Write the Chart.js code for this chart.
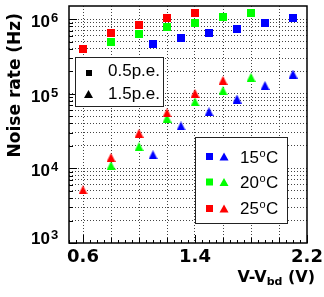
<!DOCTYPE html>
<html><head><meta charset="utf-8">
<script src="https://cdn.jsdelivr.net/npm/chart.js@4/dist/chart.umd.min.js"></script>
<style>html,body{margin:0;padding:0;background:#fff;}canvas{display:block;}</style>
</head><body>
<canvas id="c" width="324" height="297"></canvas>
<script>
// ---- data ----
const voltage15 = [1.1, 1.3, 1.5, 1.7, 1.9, 2.1];
const rate15_05pe = [4.65e5, 5.6e5, 6.45e5, 7.45e5, 8.75e5, 1.03e6];
const rate15_15pe = [1.52e4, 3.7e4, 5.75e4, 8.5e4, 1.29e5, 1.83e5];

const voltage20 = [0.8, 1.0, 1.2, 1.4, 1.6, 1.8];
const rate20_05pe = [4.9e5, 6.3e5, 7.8e5, 9.0e5, 1.06e6, 1.2e6];
const rate20_15pe = [1.09e4, 1.96e4, 4.7e4, 7.8e4, 1.1e5, 1.66e5];

const voltage25 = [0.6, 0.8, 1.0, 1.2, 1.4, 1.6];
const rate25_05pe = [3.95e5, 6.55e5, 8.4e5, 1.03e6, 1.21e6];
const rate25_15pe = [5.15e3, 1.4e4, 2.95e4, 5.55e4, 1.01e5, 1.51e5];

const xTickValues = [0.6, 1.4, 2.2];
const xTickLabels = ['0.6', '1.4', '2.2'];
const xGridValues = [0.6, 0.8, 1.0, 1.2, 1.4, 1.6, 1.8, 2.0];
const yTickExponents = [3, 4, 5, 6];
const temperatureLabels = ['15', '20', '25'];
const thresholdLabels = ['0.5p.e.', '1.5p.e.'];
const xTitleMain = 'V-V';
const xTitleSub = 'bd';
const xTitleTail = ' (V)';
const yTitle = 'Noise rate (Hz)';

const BLUE = '#0000ff', GREEN = '#00ff00', RED = '#ff0000';

function makeMarker(shape, color, w, h) {
  const cv = document.createElement('canvas');
  cv.width = w; cv.height = h;
  const g = cv.getContext('2d');
  g.fillStyle = color;
  if (shape === 'square') { g.fillRect(0, 0, w, h); }
  else { g.beginPath(); g.moveTo(0, h); g.lineTo(w / 2, 0); g.lineTo(w, h); g.closePath(); g.fill(); }
  return cv;
}
function pts(xs, ys) { return ys.map((y, i) => ({ x: xs[i], y: y })); }
function ds(label, xs, ys, shape, color) {
  return {
    label: label, data: pts(xs, ys), showLine: false,
    pointStyle: shape === 'square' ? makeMarker('square', color, 8, 8) : makeMarker('tri', color, 9, 9),
    pointRadius: 5, pointHoverRadius: 5, backgroundColor: color, borderColor: color
  };
}

const datasets = [
  ds('25C 0.5pe', voltage25, rate25_05pe, 'square', RED),
  ds('25C 1.5pe', voltage25, rate25_15pe, 'tri', RED),
  ds('20C 0.5pe', voltage20, rate20_05pe, 'square', GREEN),
  ds('20C 1.5pe', voltage20, rate20_15pe, 'tri', GREEN),
  ds('15C 0.5pe', voltage15, rate15_05pe, 'square', BLUE),
  ds('15C 1.5pe', voltage15, rate15_15pe, 'tri', BLUE)
];

function drawTri(ctx, cx, cy, w, h) {
  ctx.beginPath(); ctx.moveTo(cx - w / 2, cy + h / 2); ctx.lineTo(cx, cy - h / 2); ctx.lineTo(cx + w / 2, cy + h / 2); ctx.closePath(); ctx.fill();
}

const decor = {
  id: 'decor',
  afterDatasetsDraw(chart) {
    const ctx = chart.ctx, a = chart.chartArea;
    const xs = chart.scales.x, ys = chart.scales.y;
    ctx.save();
    // ticks
    ctx.strokeStyle = '#000'; ctx.lineWidth = 1;
    ctx.beginPath();
    for (let v = 0.5; v <= 2.2001; v += 0.05) {
      const px = Math.round(xs.getPixelForValue(v)) + 0.5;
      const r = Math.round(v * 100);
      let len = 3;
      if (r % 20 === 0) len = 5;
      if (xTickValues.some(t => Math.abs(t - v) < 1e-6)) len = 8;
      ctx.moveTo(px, a.bottom); ctx.lineTo(px, a.bottom - len);
    }
    for (let e = 3; e <= 6; e++) {
      for (let m = 1; m <= 9; m++) {
        const val = m * Math.pow(10, e);
        if (val > ys.max) break;
        const py = Math.round(ys.getPixelForValue(val)) + 0.5;
        const len = m === 1 ? 8 : 4;
        ctx.moveTo(a.left, py); ctx.lineTo(a.left + len, py);
      }
    }
    ctx.stroke();
    // frame
    ctx.lineWidth = 1.5; ctx.strokeStyle = '#000';
    ctx.strokeRect(a.left, a.top, a.right - a.left, a.bottom - a.top);

    // x tick labels
    ctx.fillStyle = '#000';
    ctx.font = 'bold 18px "DejaVu Sans"';
    ctx.textAlign = 'center'; ctx.textBaseline = 'alphabetic';
    xTickValues.forEach((v, i) => ctx.fillText(xTickLabels[i], xs.getPixelForValue(v), 262));
    // y tick labels
    yTickExponents.forEach(e => {
      const py = ys.getPixelForValue(Math.pow(10, e));
      let base = Math.min(py + 8, a.bottom + 1);
      ctx.font = 'bold 17px "Liberation Sans"';
      ctx.textAlign = 'right';
      ctx.fillText('10', 50, base);
      ctx.font = 'bold 13px "Liberation Sans"';
      ctx.textAlign = 'left';
      ctx.fillText(String(e), 51, base - 5);
    });
    // x title (right aligned)
    ctx.textAlign = 'left';
    const fMain = 'bold 16px "DejaVu Sans"', fSub = 'bold 11px "DejaVu Sans"';
    ctx.font = fMain; const w1 = ctx.measureText(xTitleMain).width, w3 = ctx.measureText(xTitleTail).width;
    ctx.font = fSub; const w2 = ctx.measureText(xTitleSub).width;
    let x0 = 315 - (w1 + w2 + w3);
    ctx.font = fMain; ctx.fillText(xTitleMain, x0, 282);
    ctx.font = fSub; ctx.fillText(xTitleSub, x0 + w1, 285);
    ctx.font = fMain; ctx.fillText(xTitleTail, x0 + w1 + w2, 282);
    // y title
    ctx.save();
    ctx.translate(20, 13); ctx.rotate(-Math.PI / 2);
    ctx.font = 'bold 17px "DejaVu Sans"'; ctx.textAlign = 'right';
    ctx.fillText(yTitle, 0, 0);
    ctx.restore();

    // legend 1 (thresholds)
    ctx.fillStyle = '#fff'; ctx.fillRect(75, 57, 88, 49);
    ctx.lineWidth = 1; ctx.strokeStyle = '#222'; ctx.strokeRect(75.5, 57.5, 88, 49);
    ctx.fillStyle = '#000';
    ctx.fillRect(86, 70, 6, 6);
    drawTri(ctx, 88.5, 94, 9, 8);
    ctx.font = '17px "Liberation Sans"'; ctx.textAlign = 'left';
    ctx.fillText(thresholdLabels[0], 108, 76);
    ctx.fillText(thresholdLabels[1], 108, 99);

    // legend 2 (temperatures)
    ctx.fillStyle = '#fff'; ctx.fillRect(195, 137, 92, 86);
    ctx.strokeStyle = '#222'; ctx.strokeRect(195.5, 137.5, 92, 86);
    const cols = [BLUE, GREEN, RED];
    const rowsY = [156.5, 182, 208.5];
    const base = [163, 188, 214];
    cols.forEach((c, i) => {
      ctx.fillStyle = c;
      ctx.fillRect(206, rowsY[i] - 3.5, 7, 7);
      drawTri(ctx, 224, rowsY[i], 9, 8);
      ctx.fillStyle = '#000';
      ctx.font = '17px "Liberation Sans"';
      ctx.fillText(temperatureLabels[i], 240, base[i]);
      const wn = ctx.measureText(temperatureLabels[i]).width;
      ctx.font = '11px "Liberation Sans"';
      ctx.fillText('o', 240 + wn + 0.5, base[i] - 6.5);
      const wo = ctx.measureText('o').width;
      ctx.font = '17px "Liberation Sans"';
      ctx.fillText('C', 240 + wn + wo + 1, base[i]);
    });
    ctx.restore();
  }
};

const yGrid = [];
for (let e = 3; e <= 6; e++) for (let m = 1; m <= 9; m++) { const v = m * Math.pow(10, e); if (v > 1000 && v <= 1.5e6) yGrid.push(v); }

new Chart(document.getElementById('c'), {
  type: 'scatter',
  data: { datasets: datasets },
  options: {
    responsive: false, animation: false, devicePixelRatio: 1,
    layout: { padding: { left: 69, right: 17, top: 4, bottom: 54 } },
    plugins: { legend: { display: false }, tooltip: { enabled: false } },
    scales: {
      x: {
        type: 'linear', min: 0.5, max: 2.2,
        afterBuildTicks: s => { s.ticks = xGridValues.map(v => ({ value: v })); },
        afterFit: s => { s.height = 0; },
        ticks: { display: false },
        grid: { color: '#444', lineWidth: 1, drawTicks: false },
        border: { display: false, dash: [1, 2] }
      },
      y: {
        type: 'logarithmic', min: 1000, max: 1.5e6,
        afterBuildTicks: s => { s.ticks = yGrid.map(v => ({ value: v })); },
        afterFit: s => { s.width = 0; },
        ticks: { display: false },
        grid: { color: '#444', lineWidth: 1, drawTicks: false },
        border: { display: false, dash: [1, 2] }
      }
    }
  },
  plugins: [decor]
});
</script>
</body></html>
